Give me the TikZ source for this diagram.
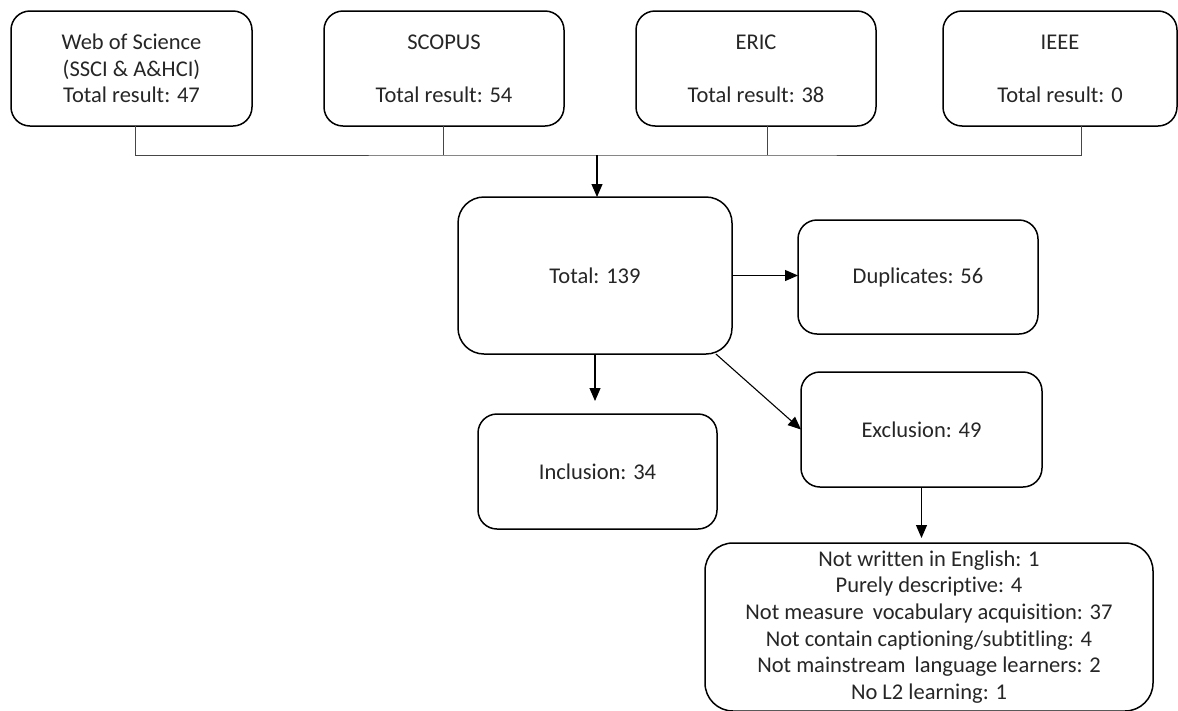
\documentclass[tikz,border=0pt]{standalone}
\usepackage{fontspec}
\setmainfont{Carlito}[Ligatures=NoCommon]
\usepackage{xcolor}
\usepackage{tikz}
\usetikzlibrary{arrows.meta}

\begin{document}
\begin{tikzpicture}[x=1pt,y=-1pt,
  box/.style={draw=black,line width=1.5pt,rounded corners=19pt,fill=white,inner sep=0pt,outer sep=0pt,align=center,text={rgb,255:red,38;green,38;blue,38},font=\fontsize{22.5}{26.6}\selectfont},
  link/.style={draw={rgb,255:red,70;green,70;blue,70},line width=0.9pt},
  arr/.style={draw=black,line width=1.1pt,-{Triangle[length=13pt,width=11pt]}}]
\path[use as bounding box] (0,0) rectangle (1178,710);
\path[fill=white,draw=none] (0,0) rectangle (1178,710);
% databases
\node[box,minimum width=241pt,minimum height=115pt] (wos) at (131.5,68.5) {Web of Science\\(SSCI \& A\&HCI)\\Total result: 47};
\node[box,minimum width=240pt,minimum height=115pt] (scopus) at (444,68.5) {SCOPUS\\[26.6pt]Total result: 54};
\node[box,minimum width=240pt,minimum height=115pt] (eric) at (756,68.5) {ERIC\\[26.6pt]Total result: 38};
\node[box,minimum width=234pt,minimum height=115pt] (ieee) at (1060,68.5) {IEEE\\[26.6pt]Total result: 0};
% screening
\node[box,rounded corners=26pt,minimum width=274pt,minimum height=157pt] (total) at (595,275.5) {Total: 139};
\node[box,minimum width=240pt,minimum height=114pt] (dup) at (918,277) {Duplicates: 56};
\node[box,minimum width=239pt,minimum height=115pt] (incl) at (597.5,471.5) {Inclusion: 34};
\node[box,minimum width=241pt,minimum height=115pt] (excl) at (921.5,429.5) {Exclusion: 49};
\node[box,rounded corners=28pt,minimum width=448pt,minimum height=168pt] (crit) at (929,627) {Not written in English: 1\\Purely descriptive: 4\\Not measure\hspace{4pt} vocabulary acquisition: 37\\Not contain captioning/subtitling: 4\\Not mainstream\hspace{4pt} language learners: 2\\No L2 learning: 1};
% connectors
\coordinate (bus) at (597,155);
\draw[link] ([xshift=3.5pt]wos.south) |- (bus) -| ([xshift=21pt]ieee.south);
\draw[link] ([xshift=-1pt]scopus.south) -- ([xshift=-1pt]scopus.south |- bus);
\draw[link] ([xshift=11pt]eric.south) -- ([xshift=11pt]eric.south |- bus);
\draw[arr] (bus) -- (bus |- total.north);
\draw[arr] (total.east) -- (total.east -| dup.west);
\draw[arr,shorten >=13pt] (total.south) -- (total.south |- incl.north);
\draw[arr] (total.-33) -- (excl.west);
\draw[arr,shorten >=5pt] (excl.south) -- (excl.south |- crit.north);
\end{tikzpicture}
\end{document}
